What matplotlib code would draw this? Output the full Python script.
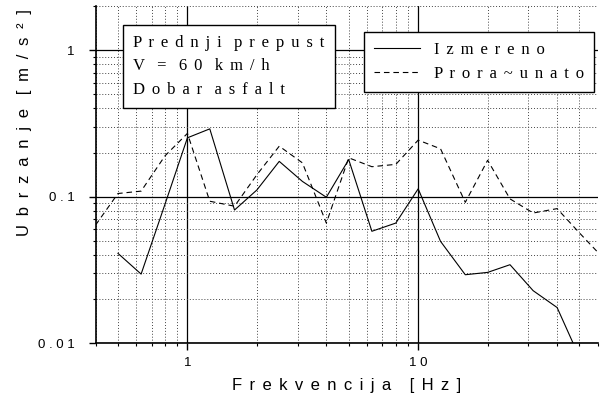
import matplotlib.pyplot as plt
from matplotlib.ticker import LogLocator, NullFormatter

# third-octave centre frequencies [Hz]
izm_freq = [0.5, 0.63, 0.8, 1, 1.25, 1.6, 2, 2.5, 3.15, 4, 5, 6.3, 8, 10,
            12.5, 16, 20, 25, 31.5, 40, 50]
izmereno = [0.041, 0.0296, 0.089, 0.252, 0.29, 0.081, 0.111, 0.174, 0.127,
            0.099, 0.179, 0.058, 0.066, 0.113, 0.0495, 0.0293, 0.0304,
            0.0343, 0.0228, 0.0175, 0.008]

pror_freq = [0.4, 0.5, 0.63, 0.8, 1, 1.25, 1.6, 2, 2.5, 3.15, 4, 5, 6.3, 8,
             10, 12.5, 16, 20, 25, 31.5, 40, 50, 63]
proracunato = [0.064, 0.105, 0.109, 0.19, 0.27, 0.093, 0.086, 0.141, 0.221,
               0.17, 0.066, 0.184, 0.16, 0.166, 0.243, 0.212, 0.0914, 0.177,
               0.0965, 0.0773, 0.0828, 0.0565, 0.0385]

yticks = [0.01, 0.1, 1]
ytick_labels = ['0.01', '0.1', '1']
xticks = [1, 10]
xtick_labels = ['1', '10']

info_lines = ['Prednji prepust', 'V = 60 km/h', 'Dobar asfalt']


def spaced(s, sep=' \u2006', gap='   '):
    # letter-spaced text, as in the original figure
    return gap.join(sep.join(w) for w in s.split(' '))


sans = ['Liberation Sans', 'DejaVu Sans']
serif = ['Liberation Serif', 'DejaVu Serif']

fig = plt.figure(figsize=(6.05, 3.99), dpi=100)
ax = fig.add_axes([0.158, 0.140, 0.830, 0.845])

ax.plot(izm_freq, izmereno, color='black', lw=0.8, label=spaced('Izmereno'), zorder=3)
ax.plot(pror_freq, proracunato, color='black', lw=0.8, dashes=(5, 3.5),
        label=spaced('Prora~unato'), zorder=3)

ax.set_xscale('log')
ax.set_yscale('log')
ax.set_xlim(0.4, 60)
ax.set_ylim(0.01, 2)

ax.set_xticks(xticks, [spaced(t, sep=' ') for t in xtick_labels], family=sans, fontsize=9.5)
ax.set_yticks(yticks, [spaced(t, sep=' ') for t in ytick_labels], family=sans, fontsize=9.5)
ax.xaxis.set_minor_locator(LogLocator(base=10, subs=range(2, 10)))
ax.yaxis.set_minor_locator(LogLocator(base=10, subs=range(2, 10)))
ax.xaxis.set_minor_formatter(NullFormatter())
ax.yaxis.set_minor_formatter(NullFormatter())
ax.tick_params(which='major', direction='out', length=5, width=1)
ax.tick_params(axis='x', which='major', pad=5)
ax.tick_params(axis='y', which='major', pad=10)
ax.tick_params(which='minor', direction='out', length=2, width=0.8)

ax.grid(which='major', color='black', lw=0.9, ls='-', zorder=1)
ax.grid(which='minor', color='#444444', lw=0.7, ls=(0, (1, 2)), zorder=1)

for side in ['top', 'right']:
    ax.spines[side].set_visible(False)
for side in ['left', 'bottom']:
    ax.spines[side].set_linewidth(1.2)

ax.set_xlabel(spaced('Frekvencija [Hz]', gap='    '), family=sans, fontsize=12)
ax.set_ylabel(spaced('Ubrzanje [m/s²]', sep=' \u2005'), family=sans, fontsize=12)
ax.xaxis.set_label_coords(0.5, -0.104)
ax.yaxis.set_label_coords(-0.127, 0.655)

ax.text(0.075, 0.915, '\n'.join(spaced(t) for t in info_lines),
        transform=ax.transAxes, family=serif, fontsize=12, va='top', ha='left',
        linespacing=1.62, zorder=5,
        bbox=dict(boxstyle='square,pad=0.6', fc='white', ec='black', lw=1))

leg = ax.legend(loc='upper right', bbox_to_anchor=(0.992, 0.923), prop=dict(family=serif, size=12),
                fancybox=False, edgecolor='black', framealpha=1, borderaxespad=0,
                handlelength=2.8, handletextpad=0.8, labelspacing=0.5, borderpad=0.6)
leg.get_frame().set_linewidth(1)
leg.set_zorder(5)

fig.savefig('out.png', dpi=100)
